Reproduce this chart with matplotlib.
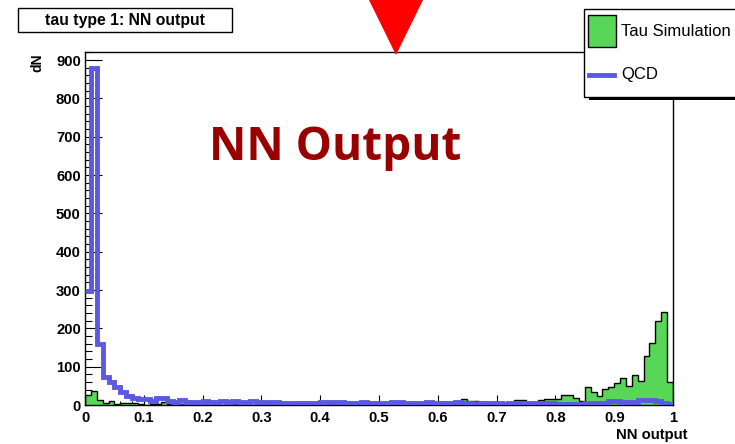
import matplotlib
matplotlib.use("Agg")
import numpy as np
import matplotlib.pyplot as plt
from matplotlib.patches import Rectangle, Polygon
from matplotlib.lines import Line2D

# 100 bins of NN output between 0 and 1
bin_edges = np.linspace(0.0, 1.0, 101)

tau_counts = [
    27, 37, 12, 6, 10, 3, 5, 5, 5, 2,
    1, 3, 2, 7, 2, 1, 2, 1, 2, 1,
    3, 1, 2, 1, 2, 3, 1, 2, 1, 2,
    1, 2, 1, 1, 2, 1, 2, 1, 1, 2,
    1, 2, 1, 2, 3, 1, 2, 1, 2, 1,
    2, 3, 2, 1, 2, 3, 2, 4, 3, 6,
    7, 5, 6, 5, 16, 11, 11, 8, 6, 5,
    9, 6, 4, 13, 14, 9, 9, 14, 15, 16,
    16, 26, 25, 18, 11, 46, 35, 23, 41, 46,
    57, 71, 50, 78, 63, 127, 163, 220, 242, 60,
]

qcd_counts = [
    298, 880, 160, 72, 60, 47, 35, 24, 17, 16,
    16, 11, 17, 19, 11, 9, 12, 8, 8, 9,
    11, 8, 7, 11, 9, 11, 7, 9, 10, 8,
    9, 7, 8, 6, 4, 4, 6, 4, 6, 5,
    7, 8, 7, 7, 4, 6, 5, 7, 6, 5,
    6, 6, 8, 7, 5, 4, 5, 6, 8, 6,
    4, 4, 6, 7, 5, 5, 3, 4, 6, 6,
    5, 3, 6, 5, 4, 4, 5, 5, 6, 5,
    3, 2, 2, 2, 3, 6, 6, 6, 6, 10,
    10, 7, 7, 7, 13, 13, 13, 10, 6, 2,
]

x_ticks = [0, 0.1, 0.2, 0.3, 0.4, 0.5, 0.6, 0.7, 0.8, 0.9, 1]
x_tick_labels = ["0", "0.1", "0.2", "0.3", "0.4", "0.5", "0.6", "0.7", "0.8", "0.9", "1"]
y_ticks = [0, 100, 200, 300, 400, 500, 600, 700, 800, 900]

W, H = 735, 444
GREEN = "#57d657"
BLUE = "#5b58e2"

plt.rcParams["font.family"] = ["Liberation Sans", "DejaVu Sans"]

fig = plt.figure(figsize=(W / 100, H / 100), dpi=100)


def fx(px):
    return px / W


def fy(py):
    return 1 - py / H


ax = fig.add_axes([fx(85), fy(405), fx(673) - fx(85), fy(52) - fy(405)])

# Tau simulation: filled green histogram with black outline
ax.stairs(tau_counts, bin_edges, fill=True, color=GREEN, zorder=2)
ax.stairs(tau_counts, bin_edges, color="black", lw=1.0, baseline=0, zorder=3)
# QCD: thick blue step line
ax.stairs(qcd_counts, bin_edges, color=BLUE, lw=3.5, baseline=None, zorder=4)

ax.set_xlim(0, 1)
ax.set_ylim(0, 921)
ax.set_xticks(x_ticks)
ax.set_xticklabels(x_tick_labels)
ax.set_xticks(np.arange(0, 1.001, 0.02), minor=True)
ax.set_yticks(y_ticks)
ax.set_yticks(np.arange(0, 921, 20), minor=True)

for s in ax.spines.values():
    s.set_color("black")
    s.set_linewidth(1.0)

ax.tick_params(axis="both", which="both", direction="in", width=0.8, color="black",
               top=False, right=False, labelsize=10.7)
ax.tick_params(axis="x", which="major", length=7, pad=4.5)
ax.tick_params(axis="x", which="minor", length=3.2)
ax.tick_params(axis="y", which="major", length=12, pad=3)
ax.tick_params(axis="y", which="minor", length=5)
for lab in ax.get_xticklabels() + ax.get_yticklabels():
    lab.set_fontweight("bold")

# axis titles
fig.text(fx(37), fy(53), "dN", rotation=90, ha="center", va="top",
         fontsize=10, fontweight="bold")
fig.text(fx(688), fy(435), "NN output", ha="right", va="center",
         fontsize=10.7, fontweight="bold")

# title box
fig.add_artist(Rectangle((fx(18), fy(32)), fx(232) - fx(18), fy(8) - fy(32),
                         transform=fig.transFigure, facecolor="white",
                         edgecolor="black", lw=1.0, zorder=5))
fig.text(fx(125), fy(20), "tau type 1: NN output", ha="center", va="center",
         fontsize=11.3, fontweight="bold", zorder=6)

# legend box with shadow
fig.add_artist(Rectangle((fx(589), fy(100)), fx(745) - fx(589), fy(96) - fy(100),
                         transform=fig.transFigure, facecolor="black",
                         edgecolor="none", zorder=5))
fig.add_artist(Rectangle((fx(584), fy(97)), fx(745) - fx(584), fy(9) - fy(97),
                         transform=fig.transFigure, facecolor="white",
                         edgecolor="black", lw=1.0, zorder=6))
fig.add_artist(Rectangle((fx(588), fy(47)), fx(616) - fx(588), fy(15) - fy(47),
                         transform=fig.transFigure, facecolor=GREEN,
                         edgecolor="black", lw=1.0, zorder=7))
fig.text(fx(621), fy(31), "Tau Simulation", ha="left", va="center",
         fontsize=12, zorder=7)
fig.add_artist(Line2D([fx(589), fx(614)], [fy(75), fy(75)],
                      transform=fig.transFigure, color=BLUE, lw=3.5, zorder=7))
fig.text(fx(621), fy(75), "QCD", ha="left", va="center", fontsize=12, zorder=7)

# headline and marker
fig.text(fx(335), fy(160), "NN Output", ha="center", va="baseline",
         fontsize=33, fontweight="bold", color="#990000",
         family=["Open Sans", "DejaVu Sans"], zorder=6)
fig.add_artist(Polygon([[fx(368), fy(-2)], [fx(424), fy(-2)], [fx(396), fy(55)]],
                       closed=True, transform=fig.transFigure,
                       facecolor="#ff0000", edgecolor="none", zorder=8))

fig.savefig("out.png", dpi=100)
